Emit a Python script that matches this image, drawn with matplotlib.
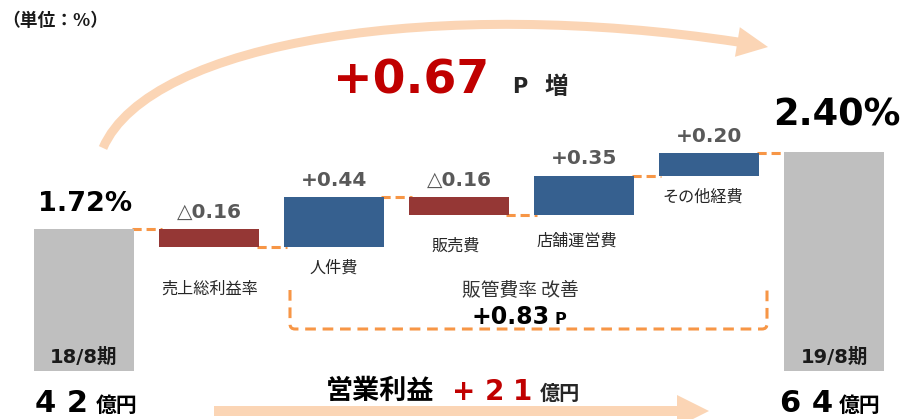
import matplotlib
matplotlib.use("Agg")
import matplotlib.pyplot as plt
from matplotlib.path import Path
from matplotlib.patches import PathPatch, Polygon
from matplotlib.transforms import Affine2D
import numpy as np

# ---------------- data ----------------
categories = ['18/8期', '売上総利益率', '人件費', '販売費', '店舗運営費', 'その他経費', '19/8期']
start_value = 1.72
end_value = 2.40
deltas = [-0.16, 0.44, -0.16, 0.35, 0.20]
delta_labels = ['△0.16', '+0.44', '△0.16', '+0.35', '+0.20']
start_label = '1.72%'
end_label = '2.40%'
total_change = '+0.67'
sga_change = '+0.83'
profit_start = '4 2'
profit_end = '6 4'
profit_change = ['+', '2', '1']

# ---------------- style ----------------
W, H = 903, 419
GREY = '#BFBFBF'
RED = '#953735'
BLUE = '#36608F'
ORANGE = '#F79646'
PEACH = '#FBD5B5'
DARKRED = '#C00000'
LAT = ['DejaVu Sans', 'Noto Sans CJK JP']
JP = ['Noto Sans CJK JP', 'DejaVu Sans']

fig = plt.figure(figsize=(W / 100, H / 100), dpi=100)
fig.patch.set_facecolor('white')
PX = Affine2D().scale(1 / W, -1 / H).translate(0, 1) + fig.transFigure

# axes whose baseline is at pixel row 371
ax = fig.add_axes([0, (H - 371) / H, 1, 371 / H])
ax.set_xlim(-0.672, 6.552)
ax.set_ylim(0.471, 3.734)
ax.axis('off')

n = len(categories)
x = np.arange(n)
cum = start_value + np.cumsum(deltas)
prev = np.concatenate([[start_value], cum[:-1]])
bw = 0.8

# totals
ax.bar([0, n - 1], [start_value, end_value], width=bw, color=GREY, zorder=2)
# floating bars
bottoms = np.minimum(prev, cum)
heights = np.abs(np.array(deltas))
colors = [BLUE if d > 0 else RED for d in deltas]
ax.bar(x[1:-1], heights, bottom=bottoms, width=bw, color=colors, zorder=2)

# connectors
levels = np.concatenate([[start_value], cum])
for i, lv in enumerate(levels):
    ax.plot([i + bw / 2 - 0.02, i + 1 - bw / 2 + 0.02], [lv, lv], color=ORANGE,
            lw=2.2, ls=(0, (3, 1.6)), zorder=1, solid_capstyle='butt')

# delta labels
for i, (lab, top) in enumerate(zip(delta_labels, np.maximum(prev, cum))):
    ax.annotate(lab, (i + 1, top), xytext=(0, 8), textcoords='offset points',
                ha='center', va='baseline', fontsize=14.5, fontweight='bold',
                color='#595959', family=LAT)

# category labels (layout positions in pixels)
cat_pos = [(210, 289), (334, 268), (456, 246), (577, 241), (703, 197)]
for lab, (px, py) in zip(categories[1:-1], cat_pos):
    fig.text(px, py, lab, transform=PX, ha='center', va='center', fontsize=11.6,
             color='#262626', family=JP)

# period labels
fig.text(84, 363, categories[0], transform=PX, ha='center', va='baseline',
         fontsize=14, fontweight='bold', color='#1a1a1a', family=LAT)
fig.text(835, 363, categories[-1], transform=PX, ha='center', va='baseline',
         fontsize=14, fontweight='bold', color='#1a1a1a', family=LAT)

# start / end values
fig.text(85, 211, start_label, transform=PX, ha='center', va='baseline',
         fontsize=19.5, fontweight='bold', color='black', family=LAT)
fig.text(837, 125, end_label, transform=PX, ha='center', va='baseline',
         fontsize=26.5, fontweight='bold', color='black', family=LAT)

# unit
fig.text(2, 21, '（単位：%）', transform=PX, ha='left', va='center',
         fontsize=12.8, fontweight='bold', color='#1a1a1a', family=JP)

# big curved arrow
verts = [(103, 148), (150, 40), (440, -3), (738, 42)]
curve = Path(verts, [Path.MOVETO, Path.CURVE4, Path.CURVE4, Path.CURVE4])
fig.patches.append(PathPatch(curve, transform=PX, fill=False, edgecolor=PEACH,
                             lw=6.5, capstyle='butt'))
tip = np.array([768, 47.0])
d = np.array([317, 52.0]); d /= np.linalg.norm(d)
pn = np.array([-d[1], d[0]])
base = tip - 31 * d
fig.patches.append(Polygon([tip, base + 15 * pn, base - 15 * pn], closed=True,
                           transform=PX, facecolor=PEACH, edgecolor='none'))

# +0.67 P 増
fig.text(333, 93, total_change, transform=PX, ha='left', va='baseline',
         fontsize=34, fontweight='bold', color=DARKRED, family=LAT)
fig.text(520, 93, 'P', transform=PX, ha='center', va='baseline',
         fontsize=15, fontweight='bold', color='#262626', family=LAT)
fig.text(556, 94, '増', transform=PX, ha='center', va='baseline',
         fontsize=17, fontweight='bold', color='#262626', family=JP)

# dashed bracket
bv = [(290, 290), (290, 324), (290, 329), (295, 329), (762, 329), (767, 329),
      (767, 324), (767, 290)]
bc = [Path.MOVETO, Path.LINETO, Path.CURVE3, Path.CURVE3, Path.LINETO,
      Path.CURVE3, Path.CURVE3, Path.LINETO]
fig.patches.append(PathPatch(Path(bv, bc), transform=PX, fill=False,
                             edgecolor=ORANGE, lw=2.2, linestyle=(0, (3.5, 2.2))))
fig.text(520, 290, '販管費率 改善', transform=PX, ha='center', va='center',
         fontsize=13.5, color='#333333', family=JP)
fig.text(472, 324, sga_change, transform=PX, ha='left', va='baseline',
         fontsize=17, fontweight='bold', color='black', family=LAT)
fig.text(555, 324, 'P', transform=PX, ha='left', va='baseline',
         fontsize=11.5, fontweight='bold', color='black', family=LAT)

# bottom straight arrow
ay, th, hw = 411, 5, 16
fig.patches.append(Polygon([(214, ay - th), (677, ay - th), (677, ay - hw),
                            (709, ay), (677, ay + hw), (677, ay + th), (214, ay + th)],
                           closed=True, transform=PX, facecolor=PEACH,
                           edgecolor='none'))

# profit figures
fig.text(35, 412, profit_start, transform=PX, ha='left', va='baseline',
         fontsize=22, fontweight='bold', color='black', family=LAT)
fig.text(96, 412, '億円', transform=PX, ha='left', va='baseline',
         fontsize=15, fontweight='bold', color='black', family=JP)
fig.text(780, 412, profit_end, transform=PX, ha='left', va='baseline',
         fontsize=22, fontweight='bold', color='black', family=LAT)
fig.text(839, 412, '億円', transform=PX, ha='left', va='baseline',
         fontsize=15, fontweight='bold', color='black', family=JP)

fig.text(380, 399, '営業利益', transform=PX, ha='center', va='baseline',
         fontsize=19.5, fontweight='bold', color='black', family=JP)
for ch, cx in zip(profit_change, [464, 494, 523]):
    fig.text(cx, 400, ch, transform=PX, ha='center', va='baseline',
             fontsize=20, fontweight='bold', color=DARKRED, family=LAT)
fig.text(540, 400, '億円', transform=PX, ha='left', va='baseline',
         fontsize=14.5, fontweight='bold', color='#262626', family=JP)

fig.savefig('out.png', dpi=100, facecolor='white')
